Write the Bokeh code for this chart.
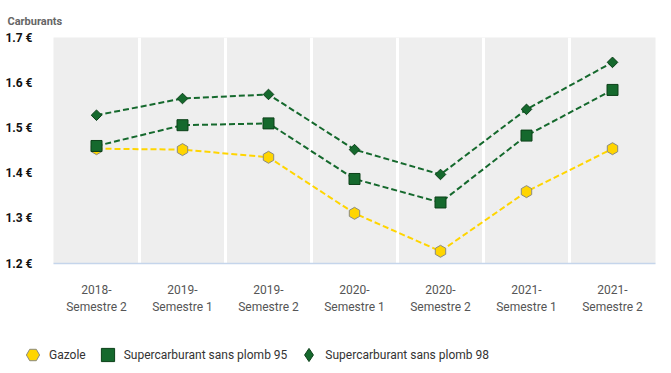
import math
from bokeh.plotting import figure
from bokeh.layouts import column
from bokeh.models import FixedTicker, PrintfTickFormatter, Legend, LegendItem, Range1d
from bokeh.embed import file_html
from bokeh.resources import INLINE

# ---- data ----
periods = ["2018-\nSemestre 2", "2019-\nSemestre 1", "2019-\nSemestre 2",
           "2020-\nSemestre 1", "2020-\nSemestre 2", "2021-\nSemestre 1",
           "2021-\nSemestre 2"]
gazole = [1.454, 1.452, 1.435, 1.311, 1.227, 1.359, 1.454]
sp95 = [1.460, 1.506, 1.510, 1.387, 1.335, 1.483, 1.584]
sp98 = [1.528, 1.565, 1.574, 1.452, 1.397, 1.541, 1.645]
y_ticks = [1.2, 1.3, 1.4, 1.5, 1.6, 1.7]
series_names = ["Gazole", "Supercarburant sans plomb 95", "Supercarburant sans plomb 98"]

FONT = "Roboto"
GREEN = "#15692D"
GREEN_DARK = "#0C4019"
YELLOW = "#FFD500"

xs = [i + 0.5 for i in range(len(periods))]

p = figure(width=663, height=318, output_backend="svg", toolbar_location=None,
           x_range=Range1d(0, len(periods)), y_range=Range1d(y_ticks[0], y_ticks[-1]),
           min_border_left=53, min_border_right=8, min_border_top=37, min_border_bottom=55,
           background_fill_color="#EEEEEE", border_fill_color="white",
           outline_line_color=None)
p.frame_align = False

p.title.text = "Carburants"
p.title.text_font = FONT
p.title.text_font_size = "11px"
p.title.text_font_style = "bold"
p.title.text_color = "#666666"
p.title.align = "left"
p.title.offset = -46
p.title.standoff = 19

# grid
p.ygrid.visible = False
p.xgrid.ticker = FixedTicker(ticks=list(range(1, len(periods))))
p.xgrid.grid_line_color = "white"
p.xgrid.grid_line_width = 3

# x axis
p.xaxis.ticker = FixedTicker(ticks=xs)
p.xaxis.major_label_overrides = {x: lab for x, lab in zip(xs, periods)}
p.xaxis.axis_line_color = "#C5D5EB"
p.xaxis.axis_line_width = 1.5
p.xaxis.major_tick_line_color = None
p.xaxis.minor_tick_line_color = None
p.xaxis.major_label_standoff = 13
p.xaxis.major_label_text_font = FONT
p.xaxis.major_label_text_font_size = "12px"
p.xaxis.major_label_text_color = "#555555"
p.xaxis.major_label_text_line_height = 1.25

# y axis
p.yaxis.ticker = FixedTicker(ticks=y_ticks)
p.yaxis.formatter = PrintfTickFormatter(format="%.1f €")
p.yaxis.axis_line_color = None
p.yaxis.major_tick_line_color = None
p.yaxis.minor_tick_line_color = None
p.yaxis.major_label_standoff = 15
p.yaxis.major_label_text_font = FONT
p.yaxis.major_label_text_font_size = "12px"
p.yaxis.major_label_text_font_style = "bold"
p.yaxis.major_label_text_color = "#111111"

# lines
p.line(xs, gazole, line_color=YELLOW, line_width=2, line_dash="6 3")
p.line(xs, sp95, line_color=GREEN, line_width=2, line_dash="6 3")
p.line(xs, sp98, line_color=GREEN, line_width=2, line_dash="6 3")

# markers
p.scatter(xs, gazole, marker="hex", angle=math.pi / 6, size=12,
          fill_color=YELLOW, line_color="#8A8A80", line_width=1)
p.scatter(xs, sp95, marker="square", size=11,
          fill_color=GREEN, line_color=GREEN_DARK, line_width=1)
p.scatter(xs, sp98, marker="square", angle=math.pi / 4, size=7.5,
          fill_color=GREEN, line_color=GREEN_DARK, line_width=1)

# ---- legend strip (separate figure; its ranges keep the series out of view,
#      the renderers only supply the legend symbols) ----
lf = figure(width=663, height=53, output_backend="svg", toolbar_location=None,
            x_range=Range1d(-100, -99), y_range=Range1d(-100, -99),
            x_axis_type=None, y_axis_type=None,
            min_border_left=0, min_border_right=0, min_border_top=0, min_border_bottom=0,
            background_fill_color="white", border_fill_color="white",
            outline_line_color=None)
lf.frame_align = False
lf.grid.visible = False

l_g = lf.scatter(xs, gazole, marker="hex", angle=math.pi / 6, size=13,
                 fill_color=YELLOW, line_color="#8A8A80", line_width=1)
l_95 = lf.scatter(xs, sp95, marker="square", size=13,
                  fill_color=GREEN, line_color=GREEN_DARK, line_width=1)
l_98 = lf.scatter(xs, sp98, marker="diamond", size=13,
                  fill_color=GREEN, line_color=GREEN_DARK, line_width=1)

legend = Legend(items=[LegendItem(label=series_names[0], renderers=[l_g]),
                       LegendItem(label=series_names[1], renderers=[l_95]),
                       LegendItem(label=series_names[2], renderers=[l_98])],
                location=(16, 0), orientation="horizontal",
                glyph_width=33, glyph_height=33, label_standoff=0,
                padding=0, margin=0, spacing=5,
                background_fill_alpha=0, border_line_color=None,
                label_text_font=FONT, label_text_font_size="12px",
                label_text_color="#333333")
lf.add_layout(legend, "center")

open("out.html", "w").write(file_html(column(p, lf), INLINE))
